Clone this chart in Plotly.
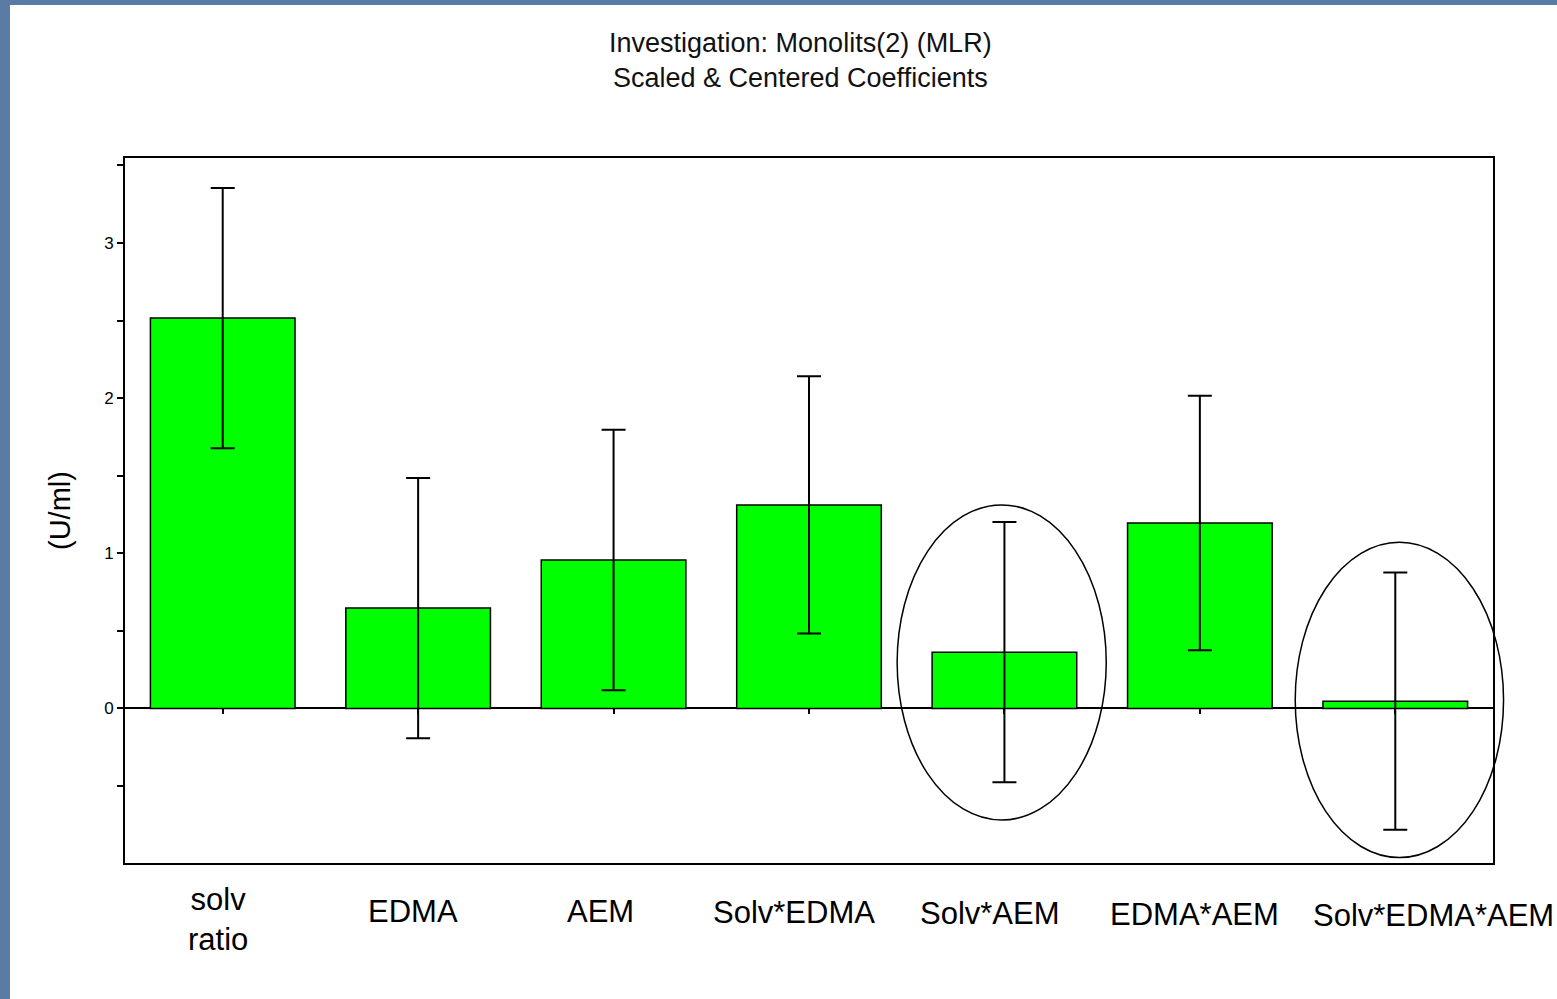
import plotly.graph_objects as go

# Coefficient plot data
categories = ["solv<br>ratio", "EDMA", "AEM", "Solv*EDMA", "Solv*AEM", "EDMA*AEM", "Solv*EDMA*AEM"]
coefficients = [2.516, 0.647, 0.957, 1.312, 0.363, 1.195, 0.047]
conf_int = [0.839, 0.839, 0.839, 0.829, 0.839, 0.820, 0.829]

y_tick_vals = [-0.5, 0, 0.5, 1, 1.5, 2, 2.5, 3, 3.5]
y_tick_text = ["", "0", "", "1", "", "2", "", "3", ""]

# Highlight ellipses around the non-significant terms (category index / coefficient units)
ellipse_x0 = [3.451, 5.488]
ellipse_x1 = [4.521, 6.554]
ellipse_y0 = [-0.719, -0.961]
ellipse_y1 = [1.312, 1.071]

# Layout geometry
W, H = 1557, 999
ML, MR, MT, MB = 125, 64, 158, 136
Y_RANGE = [-0.996, 3.548]
X_RANGE = [-0.5, len(categories) - 0.5]
PW, PH = W - ML - MR, H - MT - MB

label_xshift = [-5, -5, -13, -15, -14, -5, 38]
label_ypx = [919, 911, 911, 912, 913, 914, 915]
LABEL_FONT = dict(family="Liberation Sans, Arial, sans-serif", size=31, color="black")


def xd_to_paper(v):
    return (v - X_RANGE[0]) / (X_RANGE[1] - X_RANGE[0])


def yd_to_paper(v):
    return (v - Y_RANGE[0]) / (Y_RANGE[1] - Y_RANGE[0])


def px_to_paper(px):
    return (px - ML) / PW


def py_to_paper(py):
    return (H - MB - py) / PH


idx = list(range(len(categories)))

fig = go.Figure()
fig.add_trace(go.Bar(
    x=idx,
    y=coefficients,
    width=0.74,
    marker=dict(color="#00ff00", line=dict(color="black", width=1.5)),
    error_y=dict(type="data", array=conf_int, visible=True,
                 color="black", thickness=2, width=12),
    hoverinfo="skip",
))
# carrier trace for the tick marks along the zero line
fig.add_trace(go.Scatter(
    x=idx, y=[0] * len(idx), xaxis="x2", mode="markers",
    marker=dict(opacity=0), hoverinfo="skip", showlegend=False,
))

shapes = [
    # slide background strips
    dict(type="rect", xref="paper", yref="paper",
         x0=px_to_paper(0), x1=px_to_paper(10), y0=py_to_paper(H), y1=py_to_paper(0),
         fillcolor="#5a7ca4", line=dict(width=0), layer="above"),
    dict(type="rect", xref="paper", yref="paper",
         x0=px_to_paper(0), x1=px_to_paper(W), y0=py_to_paper(5), y1=py_to_paper(0),
         fillcolor="#5a7ca4", line=dict(width=0), layer="above"),
]
for x0, x1, y0, y1 in zip(ellipse_x0, ellipse_x1, ellipse_y0, ellipse_y1):
    shapes.append(dict(type="circle", xref="paper", yref="paper",
                       x0=xd_to_paper(x0), x1=xd_to_paper(x1),
                       y0=yd_to_paper(y0), y1=yd_to_paper(y1),
                       line=dict(color="black", width=1.5), layer="above"))

annotations = [
    dict(text="Investigation: Monolits(2) (MLR)<br>Scaled & Centered Coefficients",
         xref="paper", yref="paper", x=px_to_paper(800), y=py_to_paper(61),
         xanchor="center", yanchor="middle", showarrow=False,
         font=dict(family="Liberation Sans, Arial, sans-serif", size=27, color="#111111")),
    dict(text="(U/ml)", textangle=-90,
         xref="paper", yref="paper", x=px_to_paper(60), y=py_to_paper(511),
         xanchor="center", yanchor="middle", showarrow=False,
         font=dict(family="Liberation Sans, Arial, sans-serif", size=29, color="black")),
]
for i, (cat, dx, ypx) in enumerate(zip(categories, label_xshift, label_ypx)):
    annotations.append(dict(text=cat, xref="x", yref="paper", x=i, y=py_to_paper(ypx),
                            xanchor="center", yanchor="middle", xshift=dx,
                            showarrow=False, font=LABEL_FONT))

fig.update_layout(
    width=W, height=H,
    margin=dict(l=ML, r=MR, t=MT, b=MB),
    paper_bgcolor="white", plot_bgcolor="white",
    showlegend=False,
    bargap=0.26,
    xaxis=dict(range=X_RANGE, showticklabels=False, ticks="", showgrid=False,
               zeroline=False, showline=True, mirror=True, linecolor="black", linewidth=2),
    xaxis2=dict(overlaying="x", matches="x", anchor="free", position=yd_to_paper(0),
                tickvals=idx, ticks="outside", ticklen=5, tickwidth=1.5, tickcolor="black",
                showticklabels=False, showline=False, showgrid=False, zeroline=False),
    yaxis=dict(range=Y_RANGE, tickvals=y_tick_vals, ticktext=y_tick_text,
               ticks="outside", ticklen=6, tickwidth=1.5, tickcolor="black",
               tickfont=dict(family="Liberation Sans, Arial, sans-serif", size=17, color="black"),
               showgrid=False, zeroline=True, zerolinecolor="black", zerolinewidth=1.5,
               showline=True, mirror=True, linecolor="black", linewidth=2),
    shapes=shapes,
    annotations=annotations,
)

fig.write_html("out.html")
